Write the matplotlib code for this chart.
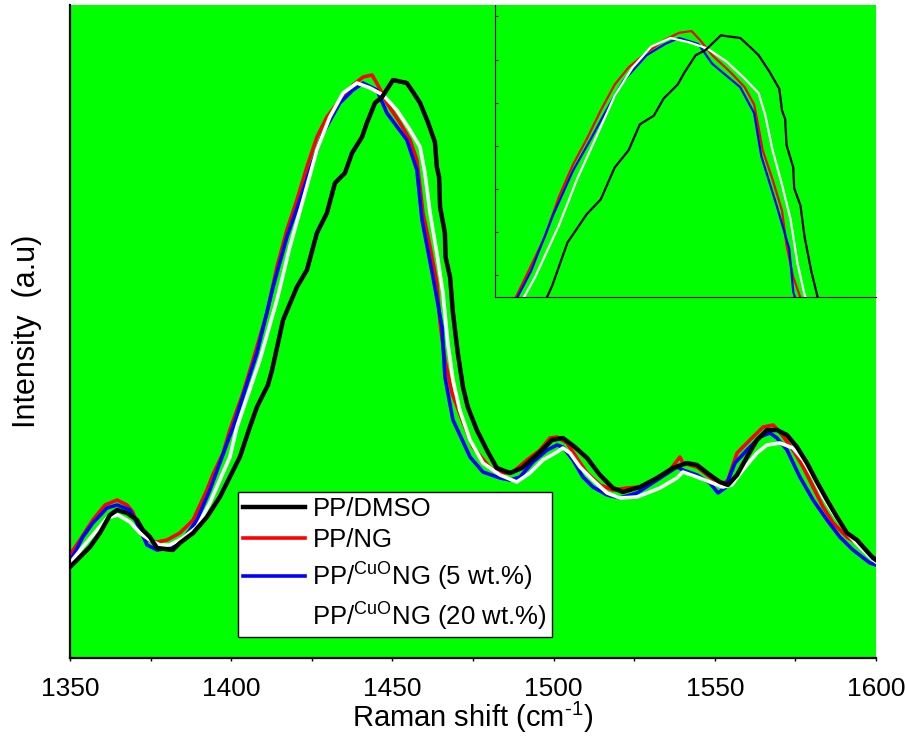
import matplotlib
matplotlib.use('Agg')
import matplotlib.pyplot as plt
from matplotlib.ticker import MultipleLocator

plt.rcParams['font.family'] = ['Liberation Sans', 'DejaVu Sans']
plt.rcParams['mathtext.fontset'] = 'custom'
plt.rcParams['mathtext.rm'] = 'Liberation Sans'

# Raman spectra (shift in cm^-1, intensity in a.u.)
x_dmso = [1350.0, 1353.1, 1356.2, 1359.3, 1362.4, 1364.6, 1367.7, 1370.8, 1372.6, 1374.8,
          1377.0, 1381.9, 1384.1, 1388.2, 1392.5, 1396.5, 1399.6, 1402.7, 1405.8, 1408.0,
          1411.4, 1412.7, 1416.1, 1420.4, 1423.5, 1426.6, 1429.7, 1432.2, 1435.3, 1437.5,
          1440.6, 1442.1, 1444.6, 1446.8, 1450.2, 1454.5, 1456.4, 1458.6, 1461.0, 1463.2,
          1463.8, 1464.5, 1464.8, 1466.3, 1466.5, 1467.9, 1468.8, 1470.3, 1471.9, 1473.4,
          1476.2, 1479.3, 1482.4, 1486.5, 1490.2, 1495.8, 1499.5, 1502.9, 1506.6, 1510.4,
          1514.4, 1518.4, 1521.5, 1526.8, 1532.1, 1537.0, 1541.4, 1544.5, 1548.5, 1551.6,
          1554.1, 1556.9, 1560.0, 1563.1, 1566.2, 1569.3, 1572.4, 1575.5, 1578.6, 1581.7,
          1584.8, 1587.9, 1591.0, 1594.1, 1599.1, 1600.0]
y_dmso = [91, 101, 111, 125, 143, 148, 145, 138, 128, 121,
          110, 108, 115, 125, 141, 161, 181, 201, 231, 251,
          273, 288, 338, 371, 388, 425, 445, 475, 485, 505,
          521, 535, 555, 561, 578, 575, 566, 555, 536, 516,
          491, 481, 451, 425, 401, 381, 345, 305, 271, 251,
          228, 208, 190, 185, 190, 206, 218, 220, 211, 200,
          183, 170, 166, 171, 180, 190, 195, 193, 183, 176,
          173, 183, 201, 218, 228, 228, 223, 211, 195, 176,
          158, 141, 125, 118, 100, 98]

x_ng = [1350.0, 1353.1, 1357.1, 1360.9, 1364.6, 1367.7, 1369.5, 1371.7, 1373.9, 1377.0,
        1380.1, 1384.1, 1388.2, 1392.5, 1394.3, 1397.5, 1399.6, 1403.7, 1406.8, 1411.1,
        1414.2, 1417.3, 1420.4, 1423.5, 1426.6, 1429.7, 1433.7, 1437.8, 1440.9, 1443.7,
        1445.5, 1448.3, 1452.4, 1455.5, 1457.6, 1458.6, 1459.5, 1461.7, 1463.8, 1464.8,
        1466.3, 1468.5, 1471.9, 1475.0, 1480.3, 1484.3, 1487.4, 1491.8, 1495.8, 1498.9,
        1501.1, 1504.2, 1507.6, 1510.4, 1514.4, 1518.4, 1522.8, 1526.8, 1532.1, 1536.1,
        1539.2, 1540.1, 1544.5, 1548.5, 1552.2, 1554.1, 1556.9, 1560.9, 1565.0, 1568.1,
        1570.2, 1574.3, 1577.4, 1580.5, 1583.6, 1586.7, 1591.0, 1594.1, 1599.1, 1600.0]
y_ng = [103, 118, 138, 153, 158, 153, 146, 128, 118, 116,
        118, 125, 138, 168, 183, 205, 228, 265, 298, 345,
        391, 428, 458, 491, 521, 541, 558, 573, 581, 583,
        573, 555, 535, 518, 498, 471, 445, 411, 375, 335,
        298, 265, 236, 211, 190, 185, 186, 198, 208, 220,
        221, 215, 198, 185, 173, 168, 170, 171, 180, 188,
        201, 195, 191, 181, 173, 178, 205, 218, 231, 233,
        226, 208, 191, 171, 151, 135, 121, 115, 101, 100]

x_5 = [1350.0, 1354.0, 1357.1, 1361.5, 1364.6, 1368.6, 1370.8, 1373.9, 1377.0, 1381.0,
       1385.0, 1389.4, 1393.4, 1396.5, 1400.6, 1408.0, 1413.0, 1417.3, 1421.3, 1424.4,
       1428.5, 1433.7, 1437.8, 1440.9, 1445.2, 1448.3, 1454.5, 1457.6, 1459.2, 1462.6,
       1465.4, 1466.3, 1468.8, 1474.1, 1478.1, 1483.4, 1486.5, 1489.6, 1493.6, 1498.0,
       1501.1, 1502.9, 1506.0, 1509.1, 1512.2, 1516.6, 1520.6, 1525.9, 1532.1, 1538.3,
       1540.1, 1544.5, 1548.5, 1551.0, 1553.2, 1556.3, 1560.0, 1564.0, 1567.1, 1569.3,
       1572.4, 1576.4, 1580.5, 1584.8, 1588.8, 1592.9, 1598.1, 1600.0]
y_5 = [96, 121, 135, 150, 153, 148, 135, 113, 108, 110,
       118, 138, 168, 195, 231, 305, 371, 421, 458, 488,
       525, 555, 568, 575, 568, 545, 518, 488, 438, 381,
       331, 281, 238, 201, 186, 180, 178, 181, 196, 208,
       213, 211, 198, 181, 171, 163, 160, 165, 178, 191,
       188, 183, 175, 165, 170, 195, 208, 221, 225, 220,
       208, 181, 158, 138, 121, 108, 95, 93]

x_20 = [1350.0, 1354.0, 1358.4, 1361.5, 1364.9, 1368.6, 1371.7, 1374.8, 1377.9, 1381.0,
        1385.0, 1389.4, 1393.4, 1396.5, 1399.6, 1401.8, 1408.9, 1414.2, 1418.2, 1422.3,
        1426.6, 1430.6, 1434.7, 1439.0, 1443.1, 1447.1, 1451.4, 1455.5, 1458.6, 1460.1,
        1461.7, 1463.8, 1465.7, 1467.2, 1468.8, 1470.9, 1474.1, 1478.1, 1483.4, 1488.6,
        1492.7, 1496.7, 1501.1, 1502.9, 1505.1, 1508.2, 1512.2, 1516.6, 1520.6, 1525.9,
        1533.0, 1538.3, 1540.1, 1544.5, 1548.5, 1552.5, 1555.3, 1558.7, 1563.1, 1566.2,
        1570.2, 1574.3, 1577.4, 1580.5, 1583.6, 1586.7, 1591.0, 1595.0, 1598.1, 1600.0]
y_20 = [95, 111, 128, 140, 143, 136, 125, 118, 113, 113,
        120, 131, 155, 178, 201, 231, 298, 358, 411, 458,
        508, 541, 565, 575, 570, 563, 548, 528, 511, 485,
        445, 405, 365, 315, 278, 248, 218, 195, 183, 176,
        185, 198, 206, 210, 205, 191, 178, 165, 160, 161,
        170, 180, 186, 181, 176, 171, 173, 188, 205, 213,
        215, 210, 198, 181, 161, 145, 125, 111, 101, 96]

labels = ['PP/DMSO', 'PP/NG',
          r'PP/$^{\mathrm{CuO}}$NG (5 wt.%)', r'PP/$^{\mathrm{CuO}}$NG (20 wt.%)']

green = '#00ff00'

fig = plt.figure(figsize=(9.05, 7.37), dpi=100)
ax = fig.add_axes([0.0773, 0.1072, 0.8906, 0.886])
ax.set_facecolor(green)

l_ng, = ax.plot(x_ng, y_ng, color='red', lw=2.6)
l_5, = ax.plot(x_5, y_5, color='blue', lw=2.6)
l_20, = ax.plot(x_20, y_20, color='white', lw=2.6)
l_dmso, = ax.plot(x_dmso, y_dmso, color='black', lw=3.2)

ax.set_xlim(1350, 1600)
ax.set_ylim(0, 653)
ax.xaxis.set_major_locator(MultipleLocator(50))
ax.xaxis.set_minor_locator(MultipleLocator(25))
ax.tick_params(axis='x', which='both', direction='out', length=2, width=1,
               labelsize=19, pad=12)
ax.set_yticks([])
for s in ['top', 'right']:
    ax.spines[s].set_visible(False)
for s in ['left', 'bottom']:
    ax.spines[s].set_linewidth(1.6)

ax.set_xlabel(r'Raman shift (cm$^{\text{-1}}$)', fontsize=21, labelpad=-1)
ax.set_ylabel('Intensity  (a.u)', fontsize=22, labelpad=20)

leg = ax.legend([l_dmso, l_ng, l_5, l_20], labels, loc='lower left',
                bbox_to_anchor=(0.2084, 0.032), borderaxespad=0,
                fontsize=18.5, frameon=True, fancybox=False, framealpha=1,
                edgecolor='black', handlelength=2.4, handletextpad=0.3,
                labelspacing=0.27, borderpad=0.2)
leg.get_frame().set_linewidth(1.0)

# inset: zoom on the main band
axin = fig.add_axes([0.547, 0.597, 0.421, 0.396])
axin.set_facecolor(green)
axin.plot(x_ng, y_ng, color='red', lw=1.6)
axin.plot(x_5, y_5, color='blue', lw=1.6)
axin.plot(x_20, y_20, color='white', lw=1.6)
axin.plot(x_dmso, y_dmso, color='black', lw=1.6)
axin.set_xlim(1400, 1484.7)
axin.set_ylim(275, 613)
for s in ['top', 'right']:
    axin.spines[s].set_visible(False)
axin.tick_params(axis='x', which='both', length=0, labelbottom=False)
axin.tick_params(axis='y', which='both', direction='in', length=2, labelleft=False)

fig.savefig('out.png', dpi=100)
